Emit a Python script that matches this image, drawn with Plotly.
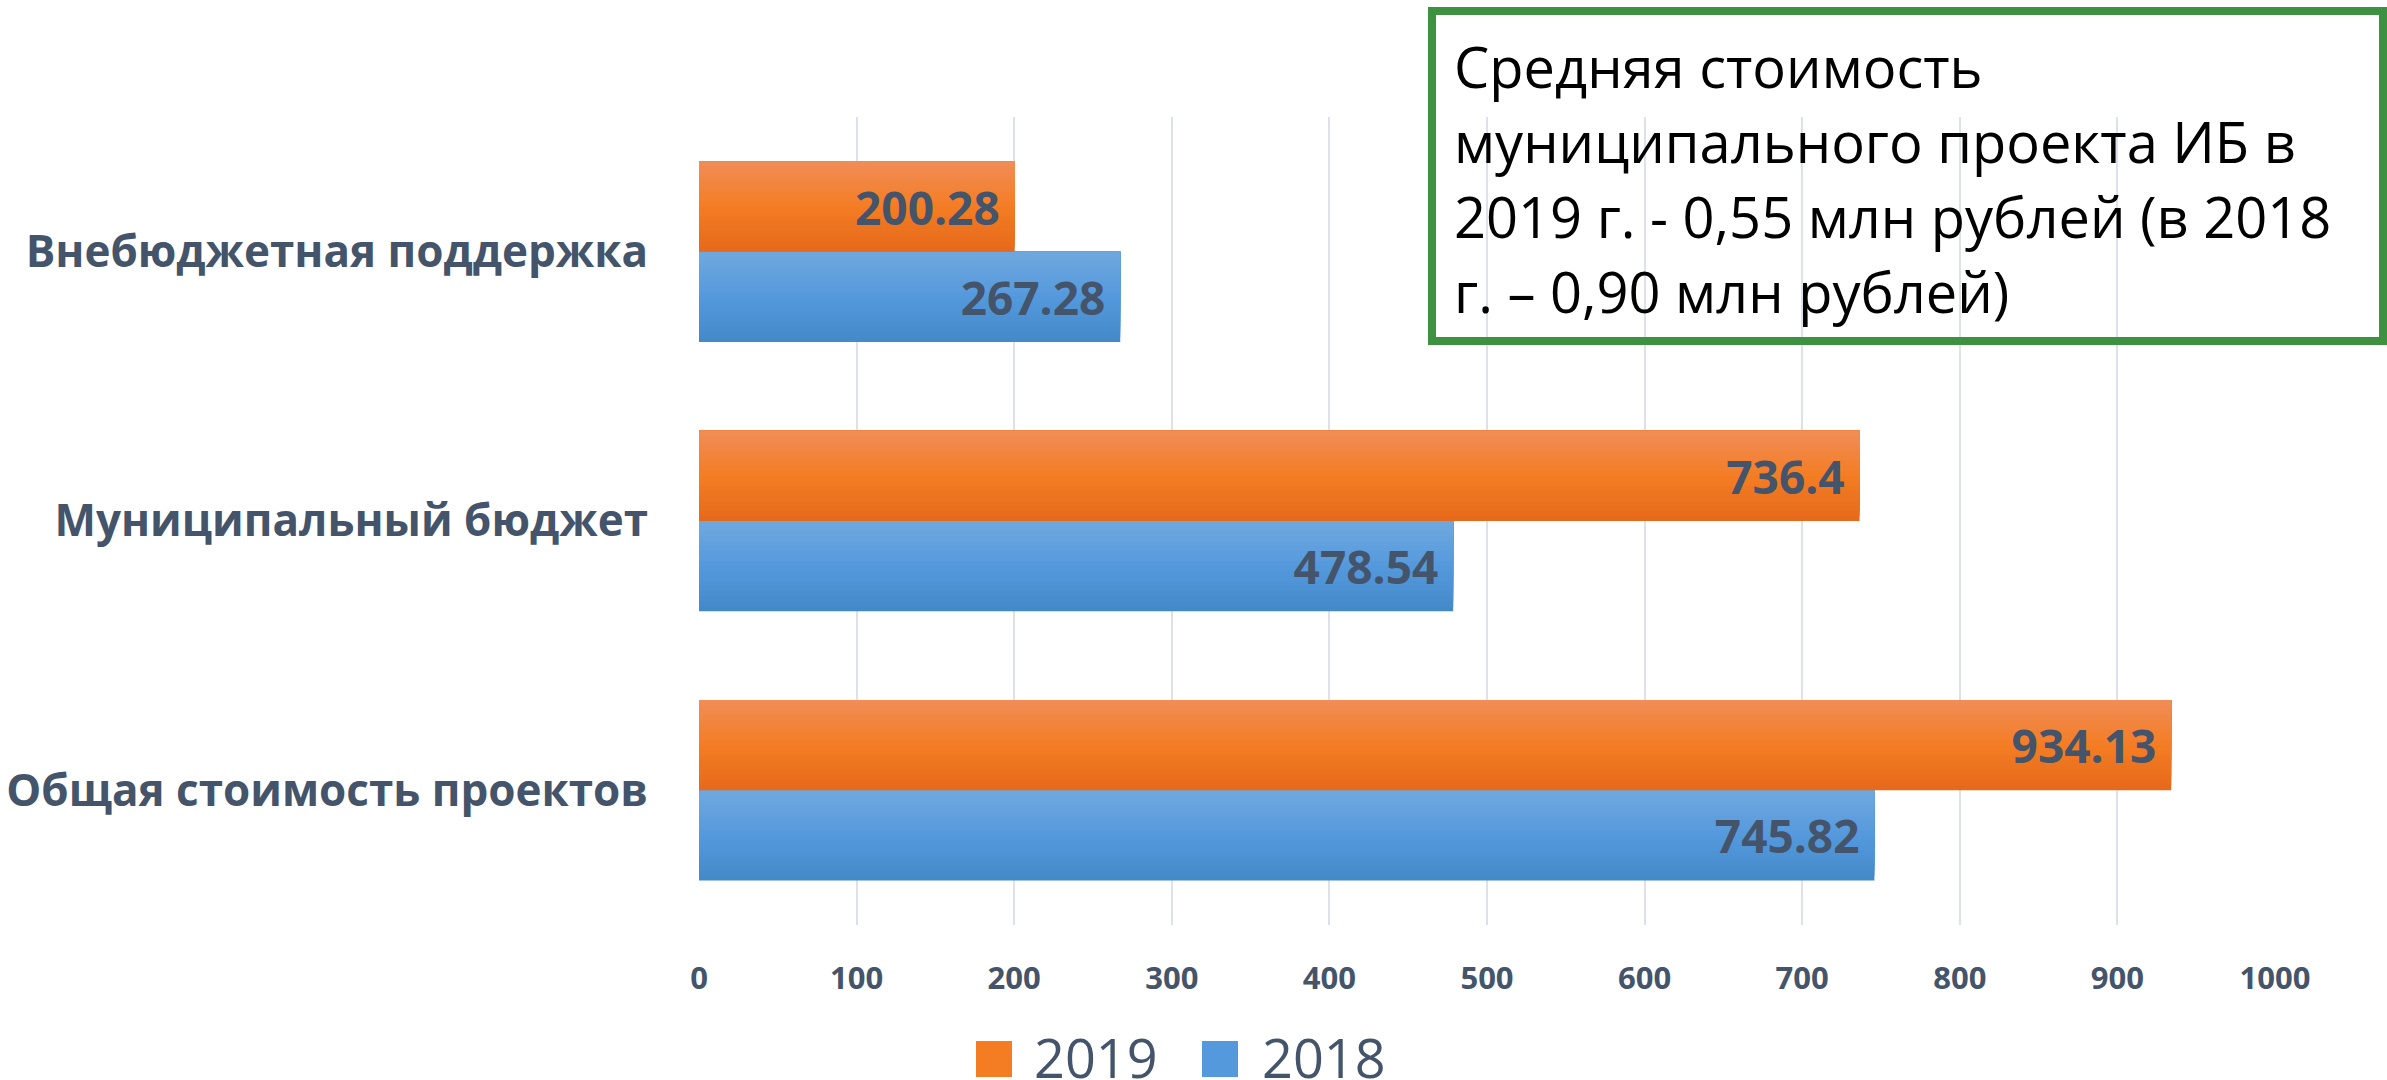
import plotly.graph_objects as go

# ---------------- data ----------------
categories = ["Общая стоимость проектов", "Муниципальный бюджет", "Внебюджетная поддержка"]
values_2018 = [745.82, 478.54, 267.28]
values_2019 = [934.13, 736.4, 200.28]
series_names = ["2019", "2018"]
x_ticks = [0, 100, 200, 300, 400, 500, 600, 700, 800, 900, 1000]
note_lines = [
    "Средняя стоимость",
    "муниципального проекта ИБ в",
    "2019 г. - 0,55 млн рублей (в 2018",
    "г. – 0,90 млн рублей)",
]

# ---------------- style ----------------
W, H = 2387, 1080
L, R, T, B = 699, 2275, 117, 925          # plot area in pixels
TXT = "#44546A"
FONT = "'Open Sans', 'Noto Sans', sans-serif"
ORANGE_STOPS = [(229, 105, 26), (244, 125, 36), (241, 141, 88)]   # bottom, mid, top
BLUE_STOPS = [(67, 137, 200), (85, 153, 221), (112, 168, 222)]
BAR_W = 0.335
N_STRIPS = 18


def px_x(p):
    return (p - L) / (R - L)


def px_y(p):
    return (B - p) / (B - T)


def grad(stops, t):
    if t <= 0.5:
        a, b, u = stops[0], stops[1], t / 0.5
    else:
        a, b, u = stops[1], stops[2], (t - 0.5) / 0.5
    c = [round(a[i] + (b[i] - a[i]) * u) for i in range(3)]
    return "rgb(%d,%d,%d)" % tuple(c)


fig = go.Figure()


def add_series(name, values, stops, base):
    # gradient built from stacked overlapping strips of the same bars
    for k in range(N_STRIPS):
        t = (k + 0.5) / N_STRIPS
        off = base + BAR_W * k / N_STRIPS
        fig.add_trace(go.Bar(
            y=categories, x=values, orientation="h", name=name,
            offset=off, width=base + BAR_W - off,
            marker=dict(color=grad(stops, t), line=dict(width=0)),
            showlegend=False, hoverinfo="skip",
        ))
    # transparent bar carrying the data labels
    fig.add_trace(go.Bar(
        y=categories, x=values, orientation="h", name=name,
        offset=base, width=BAR_W,
        marker=dict(color="rgba(0,0,0,0)", line=dict(width=0)),
        text=[("%g" % v) + "\u00a0" for v in values],
        textposition="inside", insidetextanchor="end",
        textfont=dict(family=FONT, size=46, color=TXT, weight="bold"),
        constraintext="none", cliponaxis=False,
        showlegend=False,
    ))


add_series(series_names[1], values_2018, BLUE_STOPS, -BAR_W)
add_series(series_names[0], values_2019, ORANGE_STOPS, 0.0)

# ---------------- note box ----------------
shapes = [dict(type="rect", xref="paper", yref="paper",
               x0=px_x(1432), x1=px_x(2383), y0=px_y(341), y1=px_y(11),
               line=dict(color="#3F9142", width=8), fillcolor="rgba(0,0,0,0)",
               layer="above")]
annotations = []
line_centers = [66, 141, 216, 291]
for txt, yc in zip(note_lines, line_centers):
    annotations.append(dict(text=txt, xref="paper", yref="paper",
                            x=px_x(1452), y=px_y(yc), xanchor="left", yanchor="middle",
                            showarrow=False,
                            font=dict(family=FONT, size=56, color="#000000")))

# ---------------- legend (drawn) ----------------
leg = [(series_names[0], ORANGE_STOPS, 976, 1032), (series_names[1], BLUE_STOPS, 1202, 1260)]
for name, stops, sx, tx in leg:
    shapes.append(dict(type="rect", xref="paper", yref="paper",
                       x0=px_x(sx), x1=px_x(sx + 36), y0=px_y(1077), y1=px_y(1041),
                       line=dict(width=0), fillcolor=grad(stops, 0.5)))
    annotations.append(dict(text=name, xref="paper", yref="paper",
                            x=px_x(tx), y=px_y(1057), xanchor="left", yanchor="middle",
                            showarrow=False,
                            font=dict(family=FONT, size=54, color=TXT)))

fig.update_layout(
    width=W, height=H,
    margin=dict(l=L, r=W - R, t=T, b=H - B),
    paper_bgcolor="white", plot_bgcolor="white",
    barmode="overlay",
    showlegend=False,
    shapes=shapes, annotations=annotations,
    xaxis=dict(range=[0, 1000], tickvals=x_ticks, ticktext=[str(v) for v in x_ticks],
               showgrid=True, gridcolor="#DDE2EA", gridwidth=2,
               zeroline=False, showline=False, ticks="",
               ticklabelstandoff=32, automargin=False,
               tickfont=dict(family=FONT, size=31, color=TXT, weight="bold"),
               fixedrange=True),
    yaxis=dict(categoryorder="array", categoryarray=categories,
               showgrid=False, zeroline=False, showline=False, ticks="",
               ticklabelstandoff=50, automargin=False,
               tickfont=dict(family=FONT, size=44, color=TXT, weight="bold"),
               fixedrange=True),
)

fig.write_html("out.html", config={"displayModeBar": False},
               post_script="document.body.style.margin='0';document.body.style.overflow='hidden';")
